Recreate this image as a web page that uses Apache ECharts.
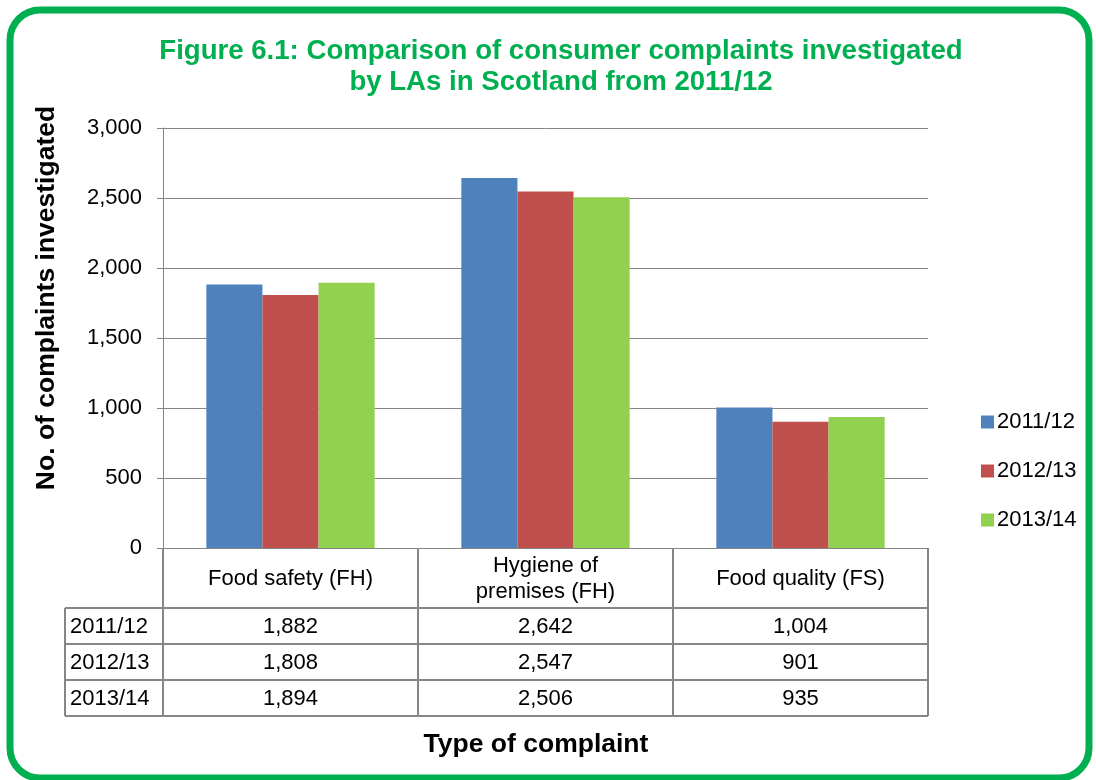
<!DOCTYPE html>
<html><head><meta charset="utf-8">
<script src="https://cdn.jsdelivr.net/npm/echarts@6/dist/echarts.min.js"></script>
<style>html,body{margin:0;padding:0;background:#fff}#c{width:1096px;height:780px}</style>
</head><body><div id="c"></div>
<script>
const categories = ['Food safety (FH)', 'Hygiene of\npremises (FH)', 'Food quality (FS)'];
const seriesNames = ['2011/12', '2012/13', '2013/14'];
const v2011 = [1882, 2642, 1004];
const v2012 = [1808, 2547, 901];
const v2013 = [1894, 2506, 935];
const colors = ['#4f81bd', '#c0504d', '#92d050'];
const yTicks = { min: 0, max: 3000, interval: 500 };

const FONT = "'Liberation Sans', Arial, sans-serif";
const FS = 22;
const grid = { left: 163, right: 168, top: 128, bottom: 232 };
const W = 1096, H = 780;
const fmt = v => v.toLocaleString('en-US');
const allVals = [v2011, v2012, v2013];

const chart = echarts.init(document.getElementById('c'), null, { renderer: 'canvas' });
const option = {
  animation: false,
  backgroundColor: '#fff',
  title: {
    text: 'Figure 6.1: Comparison of consumer complaints investigated\nby LAs in Scotland from 2011/12',
    left: 556, top: 31, textAlign: 'center',
    textStyle: { color: '#00b050', fontSize: 27.6, fontWeight: 'bold', fontFamily: FONT, lineHeight: 31 }
  },
  legend: {
    orient: 'vertical', left: 976, top: 406,
    itemWidth: 13, itemHeight: 13, itemGap: 27,
    icon: 'rect',
    textStyle: { fontSize: FS, color: '#000', fontFamily: FONT, padding: [0, 0, 0, -2] },
    data: seriesNames
  },
  grid: grid,
  xAxis: {
    type: 'category', data: categories,
    axisLine: { show: true, lineStyle: { color: '#868686', width: 1 } },
    axisTick: { show: false },
    axisLabel: { fontSize: FS, color: '#000', fontFamily: FONT, margin: 31, verticalAlign: 'middle', lineHeight: 26, interval: 0 },
    splitLine: { show: false }
  },
  yAxis: {
    type: 'value', min: yTicks.min, max: yTicks.max, interval: yTicks.interval,
    axisLine: { show: true, lineStyle: { color: '#868686', width: 1 } },
    axisTick: { show: true, length: 6, lineStyle: { color: '#868686' } },
    axisLabel: { fontSize: FS, color: '#000', fontFamily: FONT, margin: 21, formatter: v => fmt(v) },
    splitLine: { lineStyle: { color: '#868686', width: 1 } }
  },
  series: seriesNames.map((n, i) => ({
    name: n, type: 'bar', data: allVals[i],
    itemStyle: { color: colors[i] },
    barGap: '0%', barCategoryGap: '34%'
  }))
};
chart.setOption(option);

// Data table and decorations
const plotL = grid.left, plotR = W - grid.right, axisY = H - grid.bottom;
const headerBottom = 608, rowH = 36, tableLeft = 65;
const g = [];
const lineStyle = { stroke: '#868686', lineWidth: 2 };
function ln(x1, y1, x2, y2) { g.push({ type: 'line', shape: { x1, y1, x2, y2 }, style: lineStyle, silent: true }); }
const bounds = [plotL];
categories.forEach((c, i) => {
  const cx = chart.convertToPixel({ xAxisIndex: 0 }, i);
  bounds.push(cx + (cx - bounds[bounds.length - 1]));
});
const tableBottom = headerBottom + rowH * seriesNames.length;
bounds.forEach(x => ln(x, axisY, x, tableBottom));
ln(tableLeft, headerBottom, tableLeft, tableBottom);
for (let r = 0; r <= seriesNames.length; r++) {
  const y = headerBottom + r * rowH;
  ln(tableLeft, y, plotR, y);
}
seriesNames.forEach((n, r) => {
  const cy = headerBottom + r * rowH + rowH / 2 + 1;
  g.push({ type: 'text', x: tableLeft + 5, y: cy, silent: true,
    style: { text: n, fontSize: FS, fontFamily: FONT, fill: '#000', align: 'left', verticalAlign: 'middle' } });
  categories.forEach((c, i) => {
    const cx = chart.convertToPixel({ xAxisIndex: 0 }, i);
    g.push({ type: 'text', x: cx, y: cy, silent: true,
      style: { text: fmt(allVals[r][i]), fontSize: FS, fontFamily: FONT, fill: '#000', align: 'center', verticalAlign: 'middle' } });
  });
});
// axis titles
g.push({ type: 'text', x: 47, y: 298, rotation: Math.PI / 2, silent: true,
  style: { text: 'No. of complaints investigated', fontSize: 26.5, fontWeight: 'bold', fontFamily: FONT, fill: '#000', align: 'center', verticalAlign: 'middle' } });
g.push({ type: 'text', x: 536, y: 745, silent: true,
  style: { text: 'Type of complaint', fontSize: 26.5, fontWeight: 'bold', fontFamily: FONT, fill: '#000', align: 'center', verticalAlign: 'middle' } });
// green rounded border
g.push({ type: 'rect', shape: { x: 10, y: 10, width: 1079, height: 768, r: 30 }, silent: true,
  style: { fill: 'none', stroke: '#00b050', lineWidth: 7 } });
chart.setOption({ graphic: g });
</script></body></html>
